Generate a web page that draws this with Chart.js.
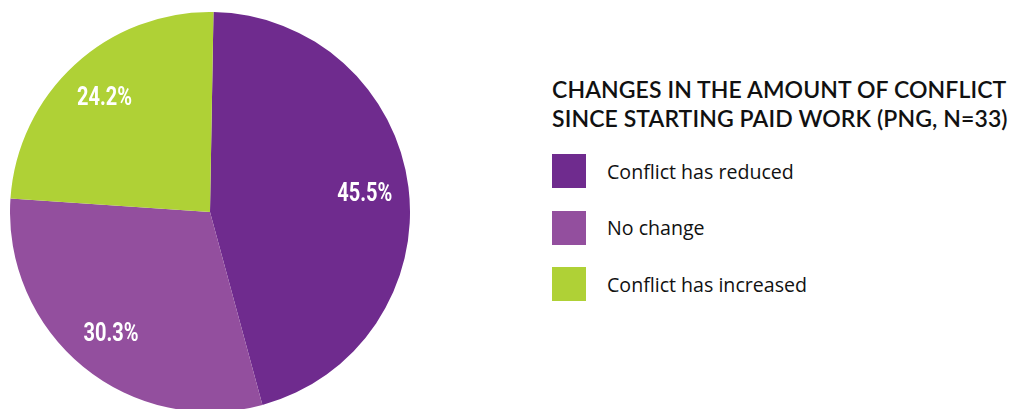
<!DOCTYPE html>
<html>
<head>
<meta charset="utf-8">
<script src="https://cdn.jsdelivr.net/npm/chart.js@4/dist/chart.umd.min.js"></script>
<style>
  html, body { margin: 0; padding: 0; background: #ffffff; overflow: hidden; }
  body { width: 1013px; height: 409px; position: relative; font-family: Lato, "Open Sans", sans-serif; }
  #pieWrap { position: absolute; left: 10px; top: 12px; width: 400px; height: 400px; }
  #side { position: absolute; left: 552px; top: 75px; width: 461px; color: #111; white-space: nowrap; }
  #side h2 { margin: 0; font-size: 23px; font-weight: 600; line-height: 29px; letter-spacing: 0.1px; }
  #legend { list-style: none; margin: 21px 0 0 0; padding: 0; font-family: "Open Sans", Lato, sans-serif; }
  #legend li { display: flex; align-items: center; height: 34px; margin-bottom: 22.5px; font-size: 19.6px; font-weight: 500; }
  #legend .sw { width: 34px; height: 34px; margin-right: 21px; }
</style>
</head>
<body>
<div id="pieWrap"><canvas id="pie"></canvas></div>
<div id="side">
  <h2>CHANGES IN THE AMOUNT OF CONFLICT<br>SINCE STARTING PAID WORK (PNG, N=33)</h2>
  <ul id="legend"></ul>
</div>
<script>
// Shares of respondents, in percent
const categories = ['Conflict has reduced', 'No change', 'Conflict has increased'];
const shares = [45.5, 30.3, 24.2];
const sliceColors = ['#6f2b8e', '#934f9e', '#afd136'];

// Writes each slice's percentage inside it, out near the rim
const sliceLabels = {
    id: 'sliceLabels',
    afterDatasetsDraw(chart) {
        const ctx = chart.ctx;
        const meta = chart.getDatasetMeta(0);
        ctx.fillStyle = '#ffffff';
        ctx.font = 'bold 25px Roboto, sans-serif';
        ctx.textAlign = 'center';
        ctx.textBaseline = 'middle';
        meta.data.forEach((arc, i) => {
            const p = arc.getProps(['x', 'y', 'startAngle', 'endAngle', 'outerRadius'], true);
            const mid = (p.startAngle + p.endAngle) / 2;
            const r = p.outerRadius * 0.78;
            // squeeze horizontally for a condensed look
            ctx.save();
            ctx.translate(p.x + Math.cos(mid) * r, p.y + Math.sin(mid) * r + 2);
            ctx.scale(0.8, 1);
            ctx.fillText(shares[i].toFixed(1) + '%', 0, 0);
            ctx.restore();
        });
    }
};

new Chart(document.getElementById('pie'), {
    type: 'pie',
    data: {
        labels: categories,
        datasets: [{
            data: shares,
            backgroundColor: sliceColors,
            borderWidth: 0
        }]
    },
    options: {
        responsive: true,
        maintainAspectRatio: false,
        animation: false,
        rotation: 1,
        layout: { padding: 0 },
        plugins: {
            legend: { display: false },
            tooltip: { enabled: false }
        }
    },
    plugins: [sliceLabels]
});

// Legend beside the pie
const legend = document.getElementById('legend');
categories.forEach((name, i) => {
    const li = document.createElement('li');
    const sw = document.createElement('span');
    sw.className = 'sw';
    sw.style.background = sliceColors[i];
    li.appendChild(sw);
    li.appendChild(document.createTextNode(name));
    legend.appendChild(li);
});
</script>
</body>
</html>
